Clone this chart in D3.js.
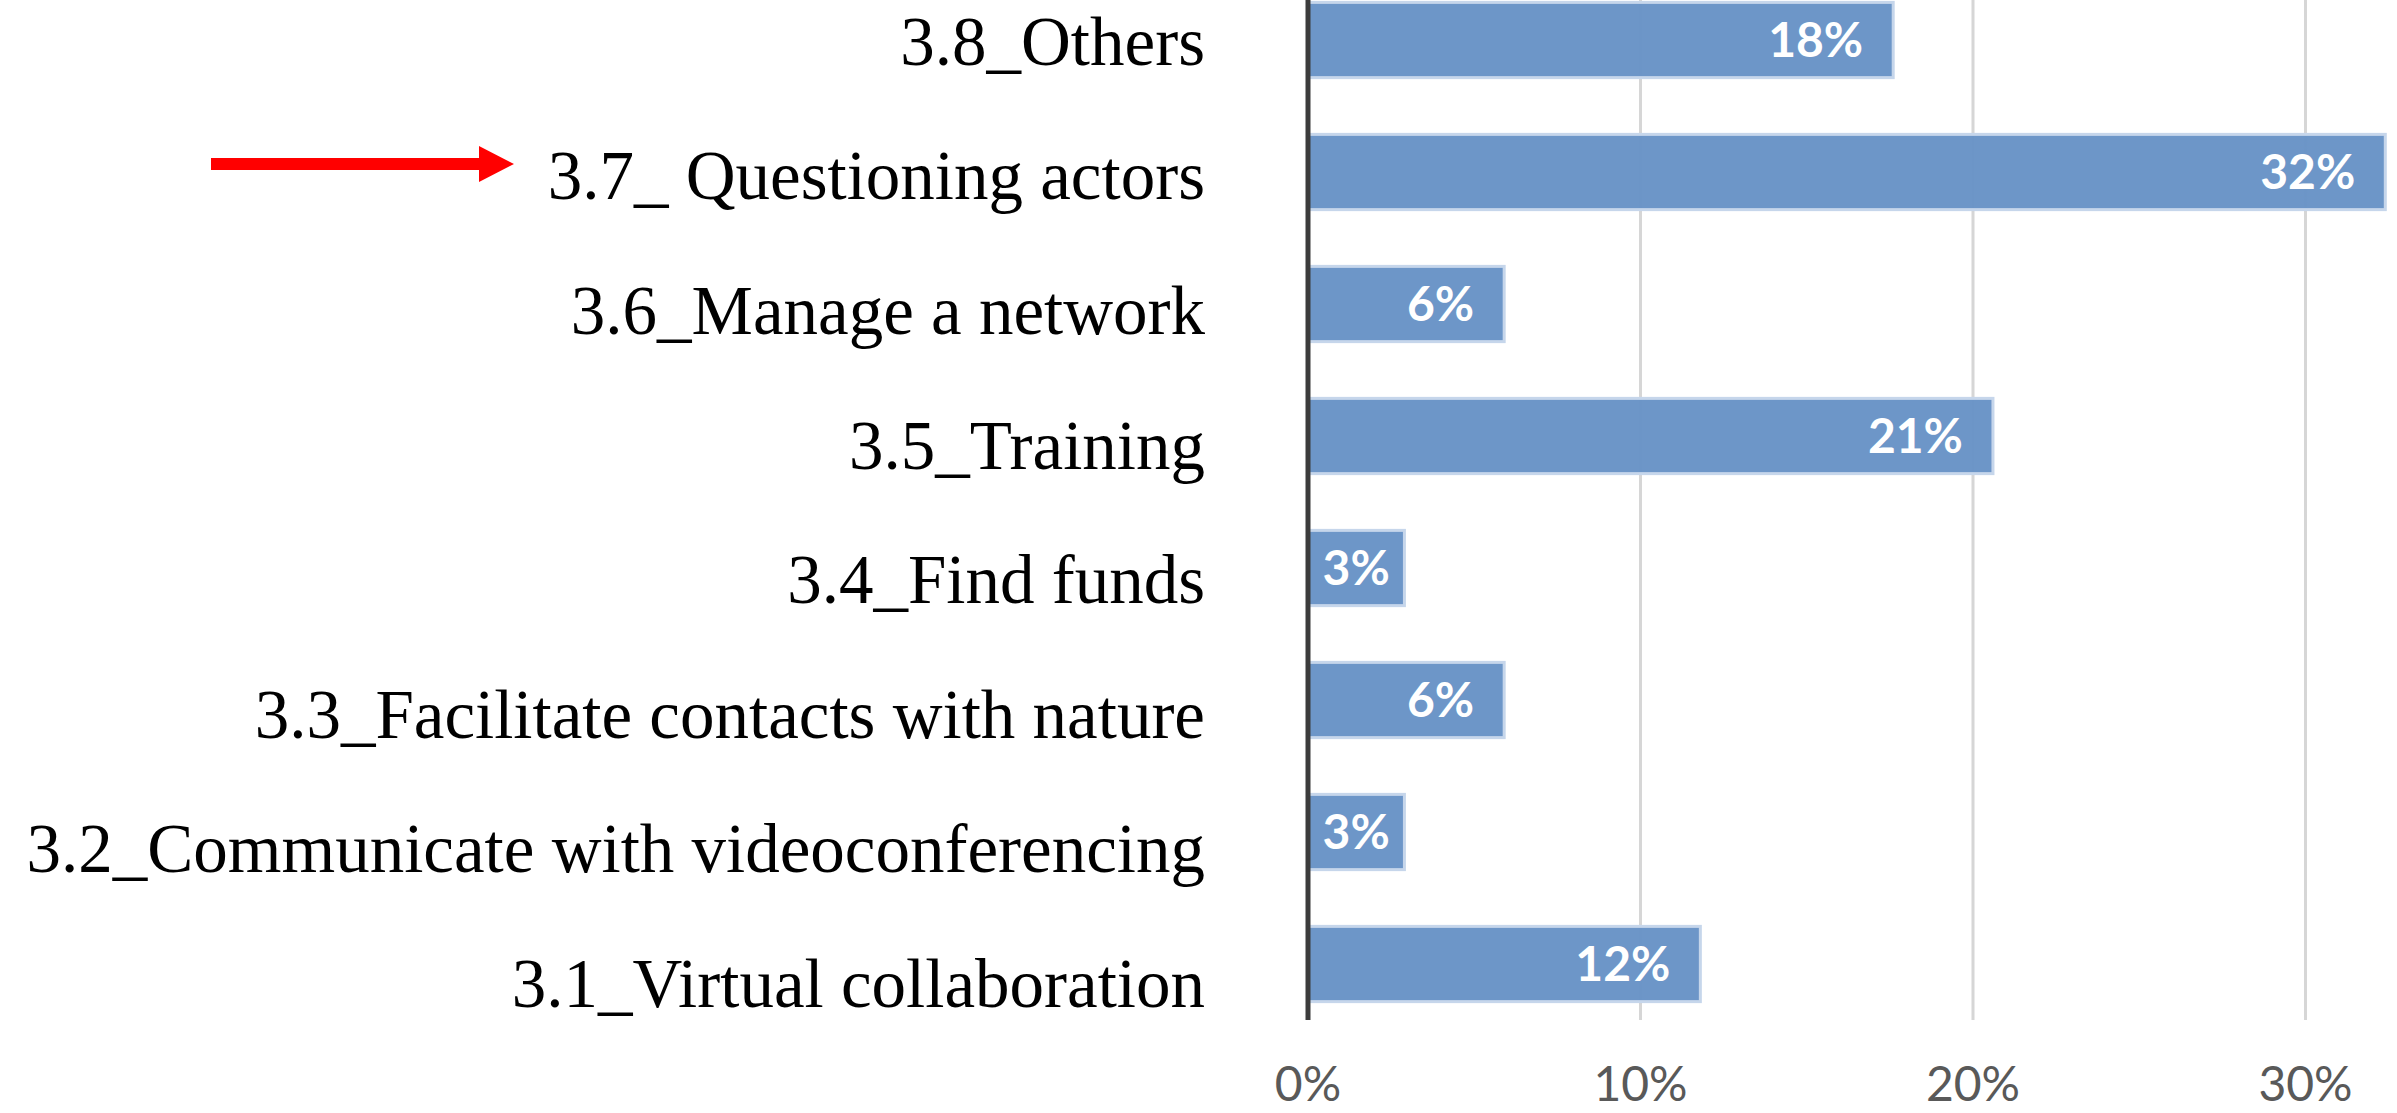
<!DOCTYPE html>
<html>
<head>
<meta charset="utf-8">
<script src="https://cdn.jsdelivr.net/npm/d3@7"></script>
<style>
  html, body { margin: 0; padding: 0; background: #fff; overflow: hidden; }
</style>
</head>
<body>
<div id="chart"></div>
<script>
// categories top to bottom, as in the picture
var categories = [
  "3.8_Others",
  "3.7_ Questioning actors",
  "3.6_Manage a network",
  "3.5_Training",
  "3.4_Find funds",
  "3.3_Facilitate contacts with nature",
  "3.2_Communicate with videoconferencing",
  "3.1_Virtual collaboration"
];
var values = [0.176, 0.324, 0.059, 0.206, 0.029, 0.059, 0.029, 0.118];
var valueLabels = ["18%", "32%", "6%", "21%", "3%", "6%", "3%", "12%"];
var tickValues = [0, 0.1, 0.2, 0.3];
var tickLabels = ["0%", "10%", "20%", "30%"];
var highlighted = "3.7_ Questioning actors";

var width = 2397, height = 1113;

var svg = d3.select("#chart")
  .append("svg")
  .attr("width", width)
  .attr("height", height);

var x = d3.scaleLinear()
  .domain([0, 0.35])
  .range([1308, 1308 + 3.5 * 332.5]);

var y = d3.scaleBand()
  .domain(categories)
  .range([-26, 1030])
  .paddingInner(0.43)
  .paddingOuter(0.215);

// the text column was laid out a bit looser than the bars
var yLabel = d3.scaleBand()
  .domain(categories)
  .range([-27.3, 1049.5]);

var plotBottom = 1020;

// vertical gridlines
svg.append("g")
  .selectAll("line")
  .data(tickValues.slice(1))
  .enter()
  .append("line")
  .attr("x1", function(d) { return x(d); })
  .attr("x2", function(d) { return x(d); })
  .attr("y1", 0)
  .attr("y2", plotBottom)
  .attr("stroke", "#d6d6d6")
  .attr("stroke-width", 3);

// bars
svg.append("g")
  .selectAll("rect")
  .data(values)
  .enter()
  .append("rect")
  .attr("x", x(0))
  .attr("y", function(d, i) { return y(categories[i]); })
  .attr("width", function(d) { return x(d) - x(0); })
  .attr("height", y.bandwidth())
  .attr("fill", "#6893c6")
  .attr("fill-opacity", 0.97)
  .attr("stroke", "#c6d6eb")
  .attr("stroke-width", 3);

// value labels inside bar ends
var labels = svg.append("g")
  .selectAll("text")
  .data(values)
  .enter()
  .append("text")
  .attr("y", function(d, i) { return y(categories[i]) + y.bandwidth() / 2; })
  .attr("dy", "0.36em")
  .attr("fill", "#ffffff")
  .style("font-family", "Lato, 'Open Sans', sans-serif")
  .style("font-weight", "bold")
  .style("font-size", "48px")
  .text(function(d, i) { return valueLabels[i]; });

labels.each(function(d) {
  var t = d3.select(this);
  var w = this.getComputedTextLength();
  var barW = x(d) - x(0);
  if (barW < w + 60) {
    t.attr("x", x(0) + barW / 2).attr("text-anchor", "middle");
  } else {
    t.attr("x", x(d) - 30).attr("text-anchor", "end");
  }
});

// zero axis line
svg.append("line")
  .attr("x1", x(0))
  .attr("x2", x(0))
  .attr("y1", 0)
  .attr("y2", plotBottom)
  .attr("stroke", "#3c3c3c")
  .attr("stroke-width", 5);

// bottom tick labels
svg.append("g")
  .selectAll("text")
  .data(tickValues)
  .enter()
  .append("text")
  .attr("x", function(d) { return x(d); })
  .attr("y", 1101)
  .attr("text-anchor", "middle")
  .attr("fill", "#595959")
  .style("font-family", "Lato, 'Open Sans', sans-serif")
  .style("font-size", "48px")
  .text(function(d, i) { return tickLabels[i]; });

// category labels
svg.append("g")
  .selectAll("text")
  .data(categories)
  .enter()
  .append("text")
  .attr("x", 1205)
  .attr("y", function(d) { return yLabel(d) + yLabel.bandwidth() / 2; })
  .attr("dy", "0.36em")
  .attr("text-anchor", "end")
  .attr("fill", "#000")
  .style("font-family", "'Liberation Serif', 'Times New Roman', serif")
  .style("font-size", "69px")
  .text(function(d) { return d; });

// red arrow pointing at the highlighted category
var ay = y(highlighted) + y.bandwidth() / 2 - 8;
var arrow = svg.append("g").attr("fill", "#ff0000");
arrow.append("rect")
  .attr("x", 211)
  .attr("y", ay - 6)
  .attr("width", 270)
  .attr("height", 12);
arrow.append("path")
  .attr("d", "M479," + (ay - 18) + " L514," + ay + " L479," + (ay + 18) + " Z");
</script>
</body>
</html>
